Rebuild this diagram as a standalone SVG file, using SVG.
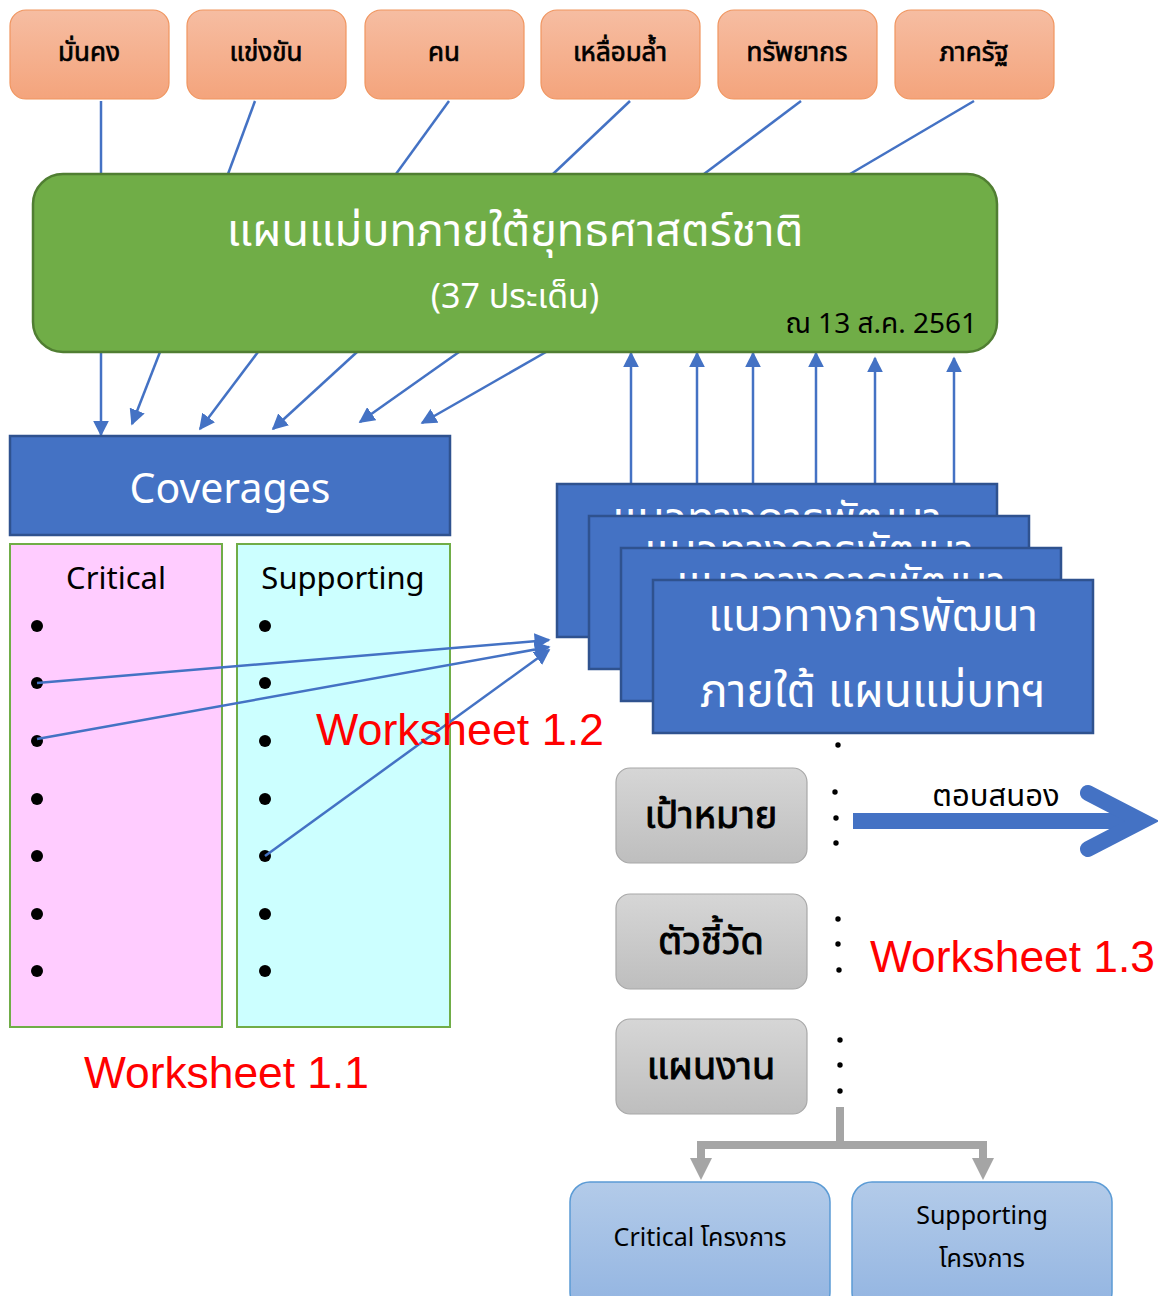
<svg xmlns="http://www.w3.org/2000/svg" width="1158" height="1296" viewBox="0 0 1158 1296">
<defs>
<linearGradient id="gOrange" x1="0" y1="0" x2="0" y2="1"><stop offset="0" stop-color="#F6BDA2"/><stop offset="1" stop-color="#F4A47C"/></linearGradient>
<linearGradient id="gGray" x1="0" y1="0" x2="0" y2="1"><stop offset="0" stop-color="#D6D6D6"/><stop offset="1" stop-color="#BEBEBE"/></linearGradient>
<linearGradient id="gBlue" x1="0" y1="0" x2="0" y2="1"><stop offset="0" stop-color="#B3CBE9"/><stop offset="1" stop-color="#92B4E1"/></linearGradient>
<marker id="ahb" viewBox="0 0 10 10" refX="9" refY="5" markerWidth="16" markerHeight="16" markerUnits="userSpaceOnUse" orient="auto"><path d="M0,0 L10,5 L0,10 z" fill="#4472C4"/></marker>
<clipPath id="c1"><rect x="557" y="484" width="440" height="32"/></clipPath>
<clipPath id="c2"><rect x="589" y="516" width="440" height="32"/></clipPath>
<clipPath id="c3"><rect x="621" y="548" width="440" height="32"/></clipPath>
<style>
text{font-family:"Noto Sans","Noto Sans Thai","Liberation Sans",sans-serif}
.top{fill:url(#gOrange);stroke:#F0955F;stroke-width:1.2}
.topt{font-size:26px;fill:#000;stroke:#000;stroke-width:0.7;text-anchor:middle}
.blue{fill:#4472C4;stroke:#2F528F;stroke-width:2.5}
.wt{fill:#fff;text-anchor:middle}
.gray{fill:url(#gGray);stroke:#A8A8A8;stroke-width:1.2}
.grt{font-size:38px;fill:#000;stroke:#000;stroke-width:0.9;text-anchor:middle}
.proj{fill:url(#gBlue);stroke:#5B9BD5;stroke-width:1.5}
.pt{font-size:25px;fill:#000;text-anchor:middle}
.ws{font-family:"Liberation Sans",sans-serif;font-size:44px;fill:#FF0000}
.ln{stroke:#4472C4;stroke-width:2.5;fill:none}
.dot{fill:#000}
</style>
</defs>

<g id="connectors">
<g class="ln">
<line x1="101" y1="101" x2="101" y2="174"/>
<line x1="255" y1="101" x2="228" y2="174"/>
<line x1="449" y1="101" x2="396" y2="174"/>
<line x1="630" y1="101" x2="553" y2="174"/>
<line x1="801" y1="101" x2="704" y2="174"/>
<line x1="974" y1="101" x2="850" y2="174"/>
<line x1="101" y1="352" x2="101" y2="435" marker-end="url(#ahb)"/>
<line x1="160" y1="352" x2="132" y2="424" marker-end="url(#ahb)"/>
<line x1="258" y1="352" x2="200" y2="429" marker-end="url(#ahb)"/>
<line x1="357" y1="352" x2="273" y2="429" marker-end="url(#ahb)"/>
<line x1="459" y1="352" x2="360" y2="422" marker-end="url(#ahb)"/>
<line x1="546" y1="352" x2="422" y2="423" marker-end="url(#ahb)"/>
<line x1="631" y1="484" x2="631" y2="353" marker-end="url(#ahb)"/>
<line x1="697" y1="484" x2="697" y2="353" marker-end="url(#ahb)"/>
<line x1="753" y1="484" x2="753" y2="353" marker-end="url(#ahb)"/>
<line x1="816" y1="484" x2="816" y2="353" marker-end="url(#ahb)"/>
<line x1="875" y1="484" x2="875" y2="358" marker-end="url(#ahb)"/>
<line x1="954" y1="484" x2="954" y2="358" marker-end="url(#ahb)"/>
</g>
</g>

<g id="top-boxes">
<g id="n-mankong"><rect class="top" x="10" y="10" width="159" height="89" rx="16"/><text class="topt" x="89" y="61">มั่นคง</text></g>
<g id="n-khaengkhan"><rect class="top" x="187" y="10" width="159" height="89" rx="16"/><text class="topt" x="266" y="61">แข่งขัน</text></g>
<g id="n-khon"><rect class="top" x="365" y="10" width="159" height="89" rx="16"/><text class="topt" x="444" y="61">คน</text></g>
<g id="n-luemla"><rect class="top" x="541" y="10" width="159" height="89" rx="16"/><text class="topt" x="620" y="61">เหลื่อมล้ำ</text></g>
<g id="n-sappayakorn"><rect class="top" x="718" y="10" width="159" height="89" rx="16"/><text class="topt" x="797" y="61">ทรัพยากร</text></g>
<g id="n-phakrat"><rect class="top" x="895" y="10" width="159" height="89" rx="16"/><text class="topt" x="974" y="61">ภาครัฐ</text></g>
</g>

<g id="master-plan">
<rect x="33" y="174" width="964" height="178" rx="30" fill="#70AD47" stroke="#507E32" stroke-width="2.5"/>
<text class="wt" x="515" y="246" font-size="45">แผนแม่บทภายใต้ยุทธศาสตร์ชาติ</text>
<text class="wt" x="515" y="308" font-size="34">(37 ประเด็น)</text>
<text x="977" y="333" font-size="28" fill="#000" text-anchor="end">ณ 13 ส.ค. 2561</text>
</g>

<g id="coverages">
<rect class="blue" x="10" y="436" width="440" height="99"/>
<text class="wt" x="230" y="503" font-size="41">Coverages</text>
</g>

<g id="critical">
<rect x="10" y="544" width="212" height="483" fill="#FFCCFF" stroke="#70AD47" stroke-width="2"/>
<text x="116" y="589" font-size="31" fill="#000" text-anchor="middle">Critical</text>
<circle class="dot" cx="37" cy="626" r="6"/><circle class="dot" cx="37" cy="683" r="6"/><circle class="dot" cx="37" cy="741" r="6"/><circle class="dot" cx="37" cy="799" r="6"/><circle class="dot" cx="37" cy="856" r="6"/><circle class="dot" cx="37" cy="914" r="6"/><circle class="dot" cx="37" cy="971" r="6"/>
</g>

<g id="supporting">
<rect x="237" y="544" width="213" height="483" fill="#CCFFFF" stroke="#70AD47" stroke-width="2"/>
<text x="343" y="589" font-size="31" fill="#000" text-anchor="middle">Supporting</text>
<circle class="dot" cx="265" cy="626" r="6"/><circle class="dot" cx="265" cy="683" r="6"/><circle class="dot" cx="265" cy="741" r="6"/><circle class="dot" cx="265" cy="799" r="6"/><circle class="dot" cx="265" cy="856" r="6"/><circle class="dot" cx="265" cy="914" r="6"/><circle class="dot" cx="265" cy="971" r="6"/>
</g>

<g id="guidelines">
<g id="gl-1"><rect class="blue" x="557" y="484" width="440" height="153"/><text class="wt" x="777" y="534" font-size="45" clip-path="url(#c1)">แนวทางการพัฒนา</text></g>
<g id="gl-2"><rect class="blue" x="589" y="516" width="440" height="153"/><text class="wt" x="809" y="566" font-size="45" clip-path="url(#c2)">แนวทางการพัฒนา</text></g>
<g id="gl-3"><rect class="blue" x="621" y="548" width="440" height="153"/><text class="wt" x="841" y="598" font-size="45" clip-path="url(#c3)">แนวทางการพัฒนา</text></g>
<g id="gl-4"><rect class="blue" x="653" y="580" width="440" height="153"/><text class="wt" x="873" y="631" font-size="45">แนวทางการพัฒนา</text><text class="wt" x="873" y="707" font-size="46">ภายใต้ แผนแม่บทฯ</text></g>
</g>

<g id="links-12" class="ln">
<line x1="37" y1="683" x2="549" y2="640" marker-end="url(#ahb)"/>
<line x1="37" y1="739" x2="549" y2="647" marker-end="url(#ahb)"/>
<line x1="265" y1="856" x2="549" y2="650" marker-end="url(#ahb)"/>
</g>

<text id="ws12" class="ws" x="316" y="745" textLength="288" lengthAdjust="spacingAndGlyphs">Worksheet 1.2</text>

<g id="target"><rect class="gray" x="616" y="768" width="191" height="95" rx="14"/><text class="grt" x="711" y="828">เป้าหมาย</text></g>
<g id="indicator"><rect class="gray" x="616" y="894" width="191" height="95" rx="14"/><text class="grt" x="711" y="954">ตัวชี้วัด</text></g>
<g id="workplan"><rect class="gray" x="616" y="1019" width="191" height="95" rx="14"/><text class="grt" x="711" y="1079">แผนงาน</text></g>

<g id="ellipses">
<circle class="dot" cx="838" cy="745" r="2.7"/>
<circle class="dot" cx="835" cy="792" r="2.7"/><circle class="dot" cx="836" cy="818" r="2.7"/><circle class="dot" cx="836" cy="843" r="2.7"/>
<circle class="dot" cx="838" cy="919" r="2.7"/><circle class="dot" cx="838" cy="944" r="2.7"/><circle class="dot" cx="839" cy="970" r="2.7"/>
<circle class="dot" cx="840" cy="1040" r="2.7"/><circle class="dot" cx="840" cy="1065" r="2.7"/><circle class="dot" cx="840" cy="1091" r="2.7"/>
</g>

<g id="respond">
<text x="996" y="806" font-size="31" fill="#000" text-anchor="middle">ตอบสนอง</text>
<line x1="853" y1="821" x2="1135" y2="821" stroke="#4472C4" stroke-width="16"/>
<polyline points="1088,793 1142,821 1088,849" fill="none" stroke="#4472C4" stroke-width="16" stroke-linecap="round" stroke-linejoin="miter"/>
</g>

<text id="ws13" class="ws" x="870" y="972" textLength="285" lengthAdjust="spacingAndGlyphs">Worksheet 1.3</text>
<text id="ws11" class="ws" x="84" y="1088" textLength="285" lengthAdjust="spacingAndGlyphs">Worksheet 1.1</text>

<g id="split-connector">
<polyline points="840,1107 840,1145" fill="none" stroke="#A5A5A5" stroke-width="8"/>
<polyline points="701,1160 701,1145 983,1145 983,1160" fill="none" stroke="#A5A5A5" stroke-width="8"/>
<path d="M690,1158 L712,1158 L701,1180 z" fill="#A5A5A5"/>
<path d="M972,1158 L994,1158 L983,1180 z" fill="#A5A5A5"/>
</g>

<g id="critical-projects"><rect class="proj" x="570" y="1182" width="260" height="130" rx="20"/><text class="pt" x="700" y="1246">Critical โครงการ</text></g>
<g id="supporting-projects"><rect class="proj" x="852" y="1182" width="260" height="130" rx="20"/><text class="pt" x="982" y="1224">Supporting</text><text class="pt" x="982" y="1267">โครงการ</text></g>
</svg>
